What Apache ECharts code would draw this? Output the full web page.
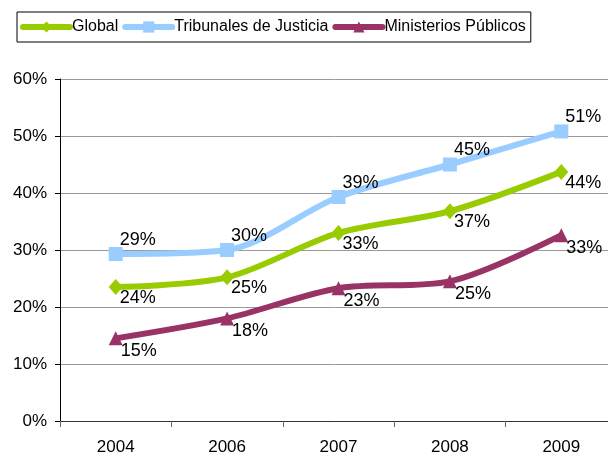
<!DOCTYPE html>
<html>
<head>
<meta charset="UTF-8">
<title></title>
<style>
  html, body { margin: 0; padding: 0; background: #fff; }
</style>
</head>
<body>
<div id="main" style="width:608px;height:456px"></div>
<script src="https://cdn.jsdelivr.net/npm/echarts@6/dist/echarts.min.js"></script>
<script type="text/javascript">
	var years = ['2004', '2006', '2007', '2008', '2009'];
	var globalData = [23.5, 25.2, 33, 36.8, 43.7];
	var tribunalesData = [29.3, 30, 39.3, 45, 50.8];
	var ministeriosData = [14.5, 18, 23.3, 24.5, 32.6];
	var yTicks = [0, 10, 20, 30, 40, 50, 60];

	var font = 'Liberation Sans';
	var myChart = echarts.init(document.querySelector('#main'));

	function makeSeries(name, data, color, symbol, offset) {
		return {
			name: name,
			type: 'line',
			data: data,
			smooth: 0.3,
			symbol: symbol,
			symbolSize: symbol === 'diamond' ? [14, 16] : 14,
			lineStyle: { color: color, width: 6 },
			itemStyle: { color: color },
			label: {
				show: true,
				position: 'right',
				distance: 0,
				offset: offset,
				color: '#000',
				fontFamily: font,
				fontSize: 18,
				formatter: function(p) { return Math.round(p.value) + '%'; }
			},
			animation: false
		};
	}

	var option = {
		backgroundColor: '#fff',
		legend: {
			left: 17,
			top: 12,
			padding: [7, 5, 7, 3],
			borderColor: '#000',
			borderWidth: 1,
			borderRadius: 0,
			itemWidth: 47,
			itemHeight: 14,
			itemGap: 4,
			lineStyle: { width: 6, cap: 'round' },
			textStyle: { color: '#000', fontFamily: font, fontSize: 16, padding: [0, 0, 0, -3] },
			data: ['Global', 'Tribunales de Justicia', 'Ministerios Públicos']
		},
		grid: { left: 60, top: 79, width: 557, height: 342, outerBoundsMode: 'none' },
		xAxis: {
			type: 'category',
			data: years,
			boundaryGap: true,
			axisLine: { lineStyle: { color: '#333', width: 1 } },
			axisTick: { show: true, length: 6, lineStyle: { color: '#666' } },
			axisLabel: { color: '#000', fontFamily: font, fontSize: 17, margin: 18 }
		},
		yAxis: {
			type: 'value',
			min: yTicks[0],
			max: yTicks[yTicks.length - 1],
			interval: 10,
			axisLine: { show: true, lineStyle: { color: '#000', width: 1 } },
			axisTick: { show: true, length: 5, lineStyle: { color: '#000' } },
			axisLabel: { color: '#000', fontFamily: font, fontSize: 17, margin: 13, formatter: '{value}%' },
			splitLine: { lineStyle: { color: '#999', width: 1 } }
		},
		series: [
			makeSeries('Global', globalData, '#99CC00', 'diamond', [-3, 11]),
			makeSeries('Tribunales de Justicia', tribunalesData, '#99CCFF', 'rect', [-3, -14]),
			makeSeries('Ministerios Públicos', ministeriosData, '#993366', 'triangle', [-2, 13])
		]
	};

	myChart.setOption(option);
</script>
</body>
</html>
